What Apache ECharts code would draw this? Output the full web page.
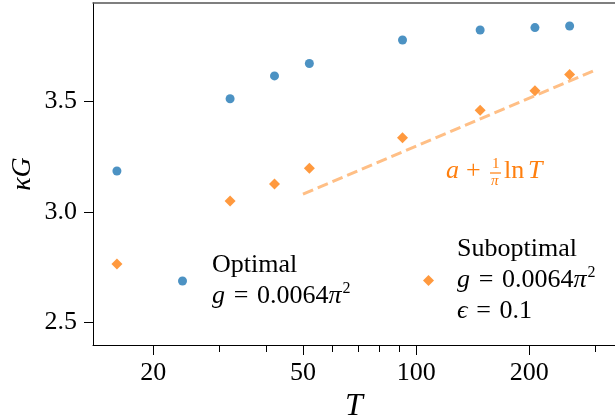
<!DOCTYPE html>
<html>
<head>
<meta charset="utf-8">
<script src="https://cdn.jsdelivr.net/npm/echarts@6/dist/echarts.min.js"></script>
<style>html,body{margin:0;padding:0;background:#fff}#c{width:615px;height:420px}</style>
</head>
<body>
<div id="c"></div>
<script>
// ---- data ----
const T = [16, 32, 42, 52, 92, 148, 207, 256];
const optimalKG = [3.184, 3.510, 3.613, 3.669, 3.775, 3.820, 3.831, 3.838];
const suboptimalKG = [2.765, 3.049, 3.125, 3.196, 3.334, 3.458, 3.546, 3.619];
const fitT = [50, 300];
const fitKG = [3.080, 3.640];
const xMajorTicks = [20, 50, 100, 200];
const xMinorTicks = [30, 40, 60, 70, 80, 90, 300];
const yTicks = [2.5, 3.0, 3.5];

const FONT = '"Liberation Serif", "DejaVu Serif", serif';
const BLUE = '#1f77b4';
const ORANGE = '#ff7f0e';

const chart = echarts.init(document.getElementById('c'));

const pairs = (xs, ys) => xs.map((x, i) => [x, ys[i]]);

const legendRich = {
  i: { fontFamily: FONT, fontStyle: 'italic', fontSize: 26, color: '#000' },
  sup: { fontFamily: FONT, fontSize: 16, color: '#000', verticalAlign: 'top', padding: [0, 0, 10, 1] }
};
const SP = '\u2004';

chart.setOption({
  animation: false,
  backgroundColor: '#fff',
  grid: { left: 93, top: 3, right: 0, bottom: 75, containLabel: false, outerBoundsMode: 'none' },
  xAxis: [
    {
      type: 'log', logBase: 10, min: 13.82, max: 338,
      name: 'T', nameLocation: 'middle', nameGap: 44,
      nameTextStyle: { fontFamily: FONT, fontStyle: 'italic', fontSize: 32, color: '#000' },
      axisLine: { show: true, lineStyle: { color: '#000', width: 1 } },
      axisTick: { show: true, length: 10, customValues: xMajorTicks, lineStyle: { color: '#000', width: 1 } },
      axisLabel: { show: true, customValues: xMajorTicks, margin: 15, fontFamily: FONT, fontSize: 26, color: '#000',
        formatter: v => String(Math.round(v)) },
      splitLine: { show: false }, minorTick: { show: false }
    },
    {
      type: 'log', logBase: 10, min: 13.82, max: 338, position: 'bottom',
      axisLine: { show: false },
      axisTick: { show: true, length: 7, customValues: xMinorTicks, lineStyle: { color: '#000', width: 1 } },
      axisLabel: { show: false },
      splitLine: { show: false }
    },
    {
      type: 'log', logBase: 10, min: 13.82, max: 338, position: 'top',
      axisLine: { show: true, lineStyle: { color: '#555', width: 1.5 } },
      axisTick: { show: false }, axisLabel: { show: false }, splitLine: { show: false }
    }
  ],
  yAxis: {
    type: 'value', min: 2.399, max: 3.942,
    name: 'κG', nameLocation: 'middle', nameGap: 56, nameRotate: 90, nameMoveOverlap: false,
    nameTextStyle: { fontFamily: FONT, fontStyle: 'italic', fontSize: 28, color: '#000' },
    axisLine: { show: true, lineStyle: { color: '#000', width: 1 } },
    axisTick: { show: true, length: 9, customValues: yTicks, lineStyle: { color: '#000', width: 1 } },
    axisLabel: { show: true, customValues: yTicks, margin: 16, fontFamily: FONT, fontSize: 26, color: '#000',
      formatter: v => v.toFixed(1) },
    splitLine: { show: false }
  },
  legend: [
    {
      data: [{ name: 'Optimal', icon: 'circle' }],
      left: 178, top: 250, padding: 0, itemWidth: 9, itemHeight: 9,
      selectedMode: false,
      formatter: () => 'Optimal\n{i|g}' + SP + '=' + SP + '0.0064{i|π}{sup|2}',
      textStyle: { fontFamily: FONT, fontSize: 26, color: '#000', lineHeight: 31, padding: [0, 0, 0, 20], rich: legendRich }
    },
    {
      data: [{ name: 'Suboptimal', icon: 'diamond' }],
      left: 423, top: 234, padding: 0, itemWidth: 11, itemHeight: 11,
      selectedMode: false,
      formatter: () => 'Suboptimal\n{i|g}' + SP + '=' + SP + '0.0064{i|π}{sup|2}\n{i|ϵ}' + SP + '=' + SP + '0.1',
      textStyle: { fontFamily: FONT, fontSize: 26, color: '#000', lineHeight: 31, padding: [0, 0, 0, 18], rich: legendRich }
    }
  ],
  series: [
    {
      name: 'Fit', type: 'line', xAxisIndex: 0, data: pairs(fitT, fitKG),
      showSymbol: false, symbol: 'none',
      lineStyle: { color: '#ffbf86', width: 3, type: [11, 5] }, z: 1
    },
    {
      name: 'Optimal', type: 'scatter', xAxisIndex: 0, data: pairs(T, optimalKG),
      symbol: 'circle', symbolSize: 9,
      itemStyle: { color: BLUE, opacity: 0.8 }, z: 3
    },
    {
      name: 'Suboptimal', type: 'scatter', xAxisIndex: 0, data: pairs(T, suboptimalKG),
      symbol: 'diamond', symbolSize: 11,
      itemStyle: { color: ORANGE, opacity: 0.8 }, z: 3
    }
  ],
  graphic: [
    { type: 'text', left: 446, top: 158, style: { text: 'a', font: 'italic 26px ' + FONT, fill: ORANGE } },
    { type: 'text', left: 466, top: 158, style: { text: '+', font: '26px ' + FONT, fill: ORANGE } },
    { type: 'text', left: 492, top: 157, style: { text: '1', font: '15px ' + FONT, fill: ORANGE } },
    { type: 'line', shape: { x1: 490, y1: 173, x2: 501, y2: 173 }, style: { stroke: ORANGE, lineWidth: 1.2 } },
    { type: 'text', left: 491, top: 174, style: { text: 'π', font: 'italic 15px ' + FONT, fill: ORANGE } },
    { type: 'text', left: 504, top: 158, style: { text: 'ln', font: '26px ' + FONT, fill: ORANGE } },
    { type: 'text', left: 528, top: 158, style: { text: 'T', font: 'italic 26px ' + FONT, fill: ORANGE } }
  ]
});
</script>
</body>
</html>
